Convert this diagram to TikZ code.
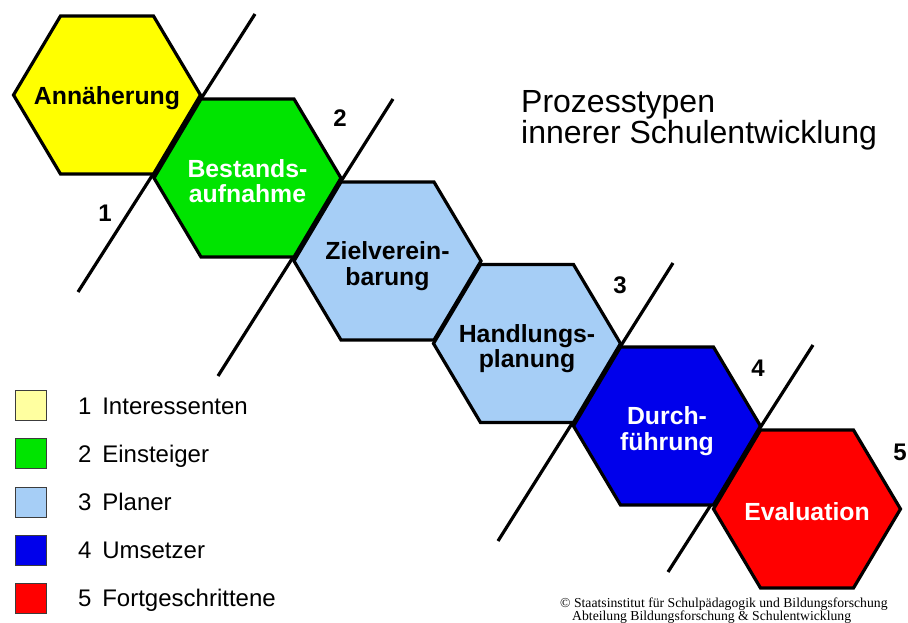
\documentclass[tikz,border=0pt]{standalone}
\usepackage{fontspec}
\setmainfont{Liberation Sans}
\newfontfamily\notefont{Liberation Serif}

\definecolor{hexyellow}{RGB}{255,255,0}
\definecolor{hexgreen}{RGB}{0,228,0}
\definecolor{hexlight}{RGB}{166,206,246}
\definecolor{hexblue}{RGB}{0,0,235}
\definecolor{hexred}{RGB}{255,0,0}
\definecolor{legyellow}{RGB}{255,255,160}
\definecolor{legframe}{RGB}{60,60,60}

\tikzset{
  hexa/.pic={\path[pic actions] (-93.5,0) -- (-46.5,-79) -- (46.5,-79)
      -- (93.5,0) -- (46.5,79) -- (-46.5,79) -- cycle;},
  hexcell/.style={draw=black, line width=3.2pt, line join=miter},
  hextext/.style={inner sep=0pt, align=center,
      font=\fontsize{24.8}{25.5}\bfseries\selectfont},
  septline/.style={draw=black, line width=3.2pt},
  stagenum/.style={inner sep=0pt, font=\fontsize{24}{24}\bfseries\selectfont},
  legbox/.style={draw=legframe, line width=1pt, minimum width=31pt,
      minimum height=30pt, inner sep=0pt},
  legtext/.style={inner sep=0pt, anchor=base west,
      font=\fontsize{24}{24}\selectfont},
}

\begin{document}
\begin{tikzpicture}[x=1pt,y=-1pt]
\useasboundingbox (0,0) rectangle (908,623);

% stage separators
\coordinate (s1a) at (255,14);  \coordinate (s1b) at (78,292);
\coordinate (s2a) at (393,99);  \coordinate (s2b) at (218,376);
\coordinate (s3a) at (673,263); \coordinate (s3b) at (498,541);
\coordinate (s4a) at (813,345); \coordinate (s4b) at (668,572);
\draw[septline] (s1a) -- (s1b);
\draw[septline] (s2a) -- (s2b);
\draw[septline] (s3a) -- (s3b);
\draw[septline] (s4a) -- (s4b);

% hexagon chain
\pic[hexcell, fill=hexyellow] at (107,95)    {hexa};
\pic[hexcell, fill=hexgreen]  at (247.5,178) {hexa};
\pic[hexcell, fill=hexlight]  at (387.5,261) {hexa};
\pic[hexcell, fill=hexlight]  at (527,343.5) {hexa};
\pic[hexcell, fill=hexblue]   at (667,426)   {hexa};
\pic[hexcell, fill=hexred]    at (807,509)   {hexa};

\node[hextext, anchor=base] (annae) at (107,105) {Annäherung};
\node[hextext, text=white] (bestand) at (247.5,181) {Bestands-\\aufnahme};
\node[hextext] (ziel) at (387.5,266) {Zielverein-\\barung};
\node[hextext] (handl) at (527,348.5) {Handlungs-\\planung};
\node[hextext, text=white] (durch) at (667,431) {Durch-\\führung};
\node[hextext, text=white, anchor=base] (eval) at (807,520) {Evaluation};

% stage numbers
\node[stagenum] (n1) at (105,213) {1};
\node[stagenum] (n2) at (340,118) {2};
\node[stagenum] (n3) at (620,285) {3};
\node[stagenum] (n4) at (758,368) {4};
\node[stagenum] (n5) at (900,452) {5};

% title (base anchor sits on the last line)
\node[inner sep=0pt, anchor=base west, align=left,
      font=\fontsize{32}{31}\selectfont] (title) at (521,144)
  {Prozesstypen\\innerer Schulentwicklung};

% legend
\node[legbox, fill=legyellow] (lb1) at (31,405) {};
\node[legbox, fill=hexgreen]  (lb2) at (31,453) {};
\node[legbox, fill=hexlight]  (lb3) at (31,502) {};
\node[legbox, fill=hexblue]   (lb4) at (31,550) {};
\node[legbox, fill=hexred]    (lb5) at (31,598) {};
\node[legtext] (lt1) at (78,414) {1\hspace{0.45em}Interessenten};
\node[legtext] (lt2) at (78,462) {2\hspace{0.45em}Einsteiger};
\node[legtext] (lt3) at (78,510) {3\hspace{0.45em}Planer};
\node[legtext] (lt4) at (78,558) {4\hspace{0.45em}Umsetzer};
\node[legtext] (lt5) at (78,606) {5\hspace{0.45em}Fortgeschrittene};

% copyright note
\node[inner sep=0pt, anchor=base west, font=\notefont\fontsize{13.7}{12}\selectfont]
  (note1) at (560,607) {© Staatsinstitut für Schulpädagogik und Bildungsforschung};
\node[inner sep=0pt, anchor=base west, font=\notefont\fontsize{13.7}{12}\selectfont]
  (note2) at (572,620.5) {Abteilung Bildungsforschung \& Schulentwicklung};
\end{tikzpicture}
\end{document}
